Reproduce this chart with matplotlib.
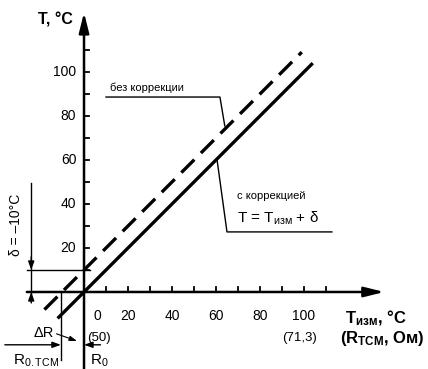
import matplotlib
matplotlib.use("Agg")
import matplotlib.pyplot as plt

plt.rcParams['font.family'] = ['Liberation Sans', 'DejaVu Sans']
plt.rcParams['mathtext.fontset'] = 'custom'
plt.rcParams['mathtext.rm'] = 'Liberation Sans'
plt.rcParams['mathtext.it'] = 'Liberation Sans'
plt.rcParams['mathtext.bf'] = 'Liberation Sans:bold'

# data
x_tick_pos = [10, 20, 30, 40, 50, 60, 70, 80, 90, 100, 110]
x_tick_labels = [0, 20, 40, 60, 80, 100]
y_tick_pos = [10, 20, 30, 40, 50, 60, 70, 80, 90, 100, 110]
y_tick_labels = [20, 40, 60, 80, 100]
delta = 10  # shift between the two characteristics
line_corr_x = [-12, 104]        # solid: with correction
line_nocorr_x = [-18, 99]       # dashed: without correction
r_labels = {0: '(50)', 100: '(71,3)'}
dR = -10.5  # R0.TCM position on x axis

fig = plt.figure(figsize=(4.28, 3.69), dpi=100)
ax = fig.add_axes([0, 0, 1, 1])
ax.set_xlim(-38.2, 156.4)
ax.set_ylim(-35, 132.7)
ax.axis('off')

# axes with arrows
ax.annotate('', xy=(0, 127), xytext=(0, -36),
            arrowprops=dict(arrowstyle='-|>,head_length=1.2,head_width=0.3', lw=1.8, color='k',
                            shrinkA=0, shrinkB=0))
ax.annotate('', xy=(136.5, 0), xytext=(-26, 0),
            arrowprops=dict(arrowstyle='-|>,head_length=1.2,head_width=0.3', lw=1.8, color='k',
                            shrinkA=0, shrinkB=0))

# ticks
for t in x_tick_pos:
    ax.plot([t, t], [0, 2.3], color='k', lw=1.3)
for t in y_tick_pos:
    ax.plot([0, 2.3], [t, t], color='k', lw=1.3)
for t in x_tick_labels:
    ax.text(t + (6 if t == 0 else 0), -11, str(t), ha='center', va='center', fontsize=10)
for t in y_tick_labels:
    ax.text(-3.5, t, str(t), ha='right', va='center', fontsize=10)
for t, s in r_labels.items():
    ax.text(t + (7 if t == 0 else -2), -21, s, ha='center', va='center', fontsize=9.5)

# characteristics
ax.plot(line_corr_x, line_corr_x, color='k', lw=2.4, solid_capstyle='butt')
ax.plot(line_nocorr_x, [v + delta for v in line_nocorr_x], color='k', lw=2.4,
        dashes=(5.5, 2.8), dash_capstyle='butt')

# delta dimension
ax.plot([-26, 2.7], [delta, delta], color='k', lw=1)
ax.plot([-24, -24], [49.5, -3.6], color='k', lw=1)
ax.annotate('', xy=(-24, delta), xytext=(-24, delta + 6),
            arrowprops=dict(arrowstyle='-|>,head_length=0.5,head_width=0.18', lw=1, color='k',
                            shrinkA=0, shrinkB=0))
ax.annotate('', xy=(-24, 0), xytext=(-24, -5),
            arrowprops=dict(arrowstyle='-|>,head_length=0.5,head_width=0.18', lw=1, color='k',
                            shrinkA=0, shrinkB=0))
ax.text(-31, 30.5, 'δ = –10°C', rotation=90, ha='center', va='center', fontsize=10)

# resistance dimension
ax.plot([dR, dR], [0, -31], color='k', lw=1)
ax.annotate('', xy=(dR, -24), xytext=(-36, -24),
            arrowprops=dict(arrowstyle='-|>,head_length=0.5,head_width=0.18', lw=1, color='k',
                            shrinkA=0, shrinkB=0))
ax.annotate('', xy=(0, -24), xytext=(7.5, -24),
            arrowprops=dict(arrowstyle='-|>,head_length=0.5,head_width=0.18', lw=1, color='k',
                            shrinkA=0, shrinkB=0))
ax.text(-18.2, -18.8, 'ΔR', ha='center', va='center', fontsize=10.5)
ax.annotate('', xy=(-3.2, -22.3), xytext=(-12.5, -19),
            arrowprops=dict(arrowstyle='-|>,head_length=0.45,head_width=0.15', lw=0.8, color='k',
                            shrinkA=0, shrinkB=0))
ax.text(-22, -31.3, r'R$_{0.\mathrm{TCM}}$', ha='center', va='center', fontsize=11)
ax.text(7, -31.3, r'R$_0$', ha='center', va='center', fontsize=11)

# callouts
ax.plot([10, 61.8, 64], [88.6, 88.6, 75.5], color='k', lw=1)
ax.text(12, 92.8, 'без коррекции', ha='left', va='center', fontsize=8)
ax.plot([60.5, 65, 112.7], [60, 27.3, 27.3], color='k', lw=1)
ax.text(69.5, 43.6, 'с коррекцией', ha='left', va='center', fontsize=8)
ax.text(69.5, 33.6, r'T = T$_{\mathrm{изм}}$ + δ', ha='left', va='center', fontsize=11)

# axis titles
ax.text(-5, 123.6, 'T, °C', ha='right', va='center', fontsize=11.5, fontweight='bold')
ax.text(118.6, -11.8, r'T$_{\mathbf{изм}}$, °C', ha='left', va='center', fontsize=12,
        fontweight='bold')
ax.text(116.4, -21, r'(R$_{\mathbf{TCM}}$, Ом)', ha='left', va='center', fontsize=12,
        fontweight='bold')

fig.savefig('out.png', dpi=100)
